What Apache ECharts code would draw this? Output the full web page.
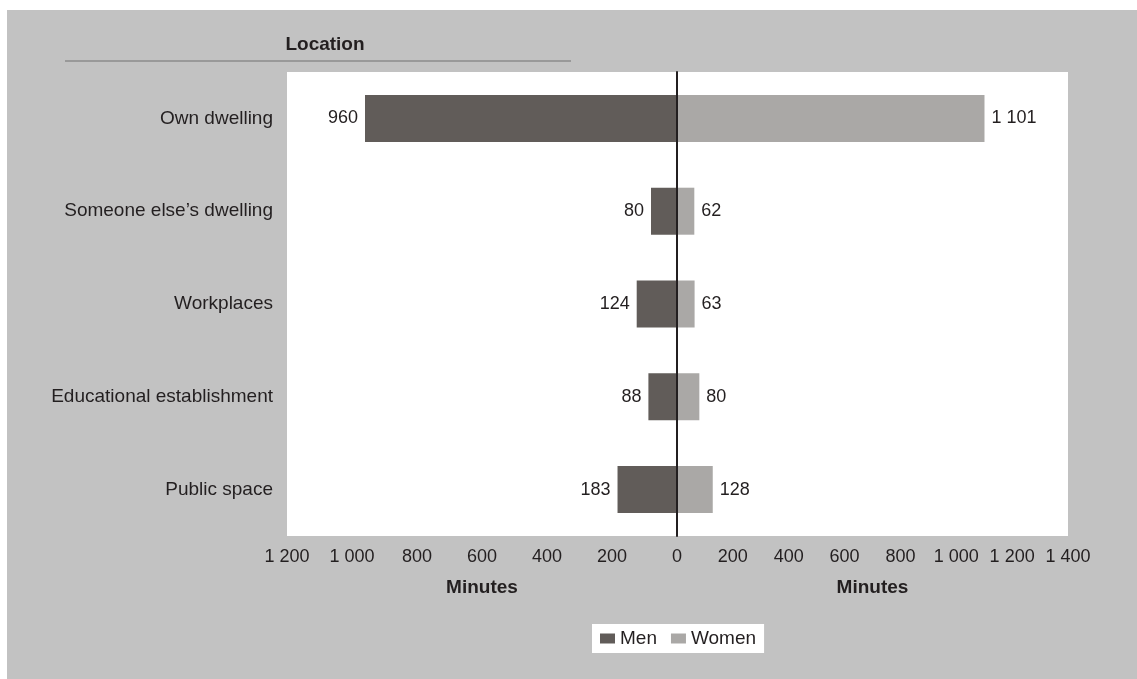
<!DOCTYPE html>
<html>
<head>
<meta charset="utf-8">
<script src="https://cdn.jsdelivr.net/npm/echarts@6/dist/echarts.min.js"></script>
<style>
  html, body { margin: 0; padding: 0; background: #ffffff; }
  #panel { position: absolute; left: 7px; top: 10px; right: 0; bottom: 0; background: #c2c2c2; }
  #chart { position: absolute; left: 0; top: 0; width: 1137px; height: 679px; }
</style>
</head>
<body>
<div id="panel"></div>
<div id="chart"></div>
<script>
// Time spent by location (minutes), men on the left, women on the right
const categories = ['Own dwelling', 'Someone else\u2019s dwelling', 'Workplaces', 'Educational establishment', 'Public space'];
const menMinutes = [960, 80, 124, 88, 183];
const womenMinutes = [1101, 62, 63, 80, 128];
const seriesNames = ['Men', 'Women'];
const axisTitle = 'Minutes';
const headerText = 'Location';

const FONT = '"Liberation Sans", Arial, sans-serif';
const TEXT = '#231f20';

// thousands separated by a space: 1101 -> "1 101"
function fmt(v) {
  return String(v).replace(/\B(?=(\d{3})+(?!\d))/g, ' ');
}

const chart = echarts.init(document.getElementById('chart'), null, { renderer: 'canvas' });

const axisLabelBase = { color: TEXT, fontFamily: FONT, fontSize: 18, margin: 12 };
const axisNameBase = { color: TEXT, fontFamily: FONT, fontSize: 19, fontWeight: 'bold' };

chart.setOption({
  backgroundColor: 'transparent',
  animation: false,
  textStyle: { fontFamily: FONT },
  grid: [
    { left: 287, width: 390, top: 72, height: 464, show: true, backgroundColor: '#ffffff', borderWidth: 0 },
    { left: 677, width: 391, top: 72, height: 464, show: true, backgroundColor: '#ffffff', borderWidth: 0 }
  ],
  legend: {
    data: seriesNames,
    left: 592,
    top: 624,
    backgroundColor: '#ffffff',
    padding: [5, 8],
    itemWidth: 15,
    itemHeight: 10,
    itemGap: 14,
    icon: 'rect',
    textStyle: { color: TEXT, fontFamily: FONT, fontSize: 19 }
  },
  xAxis: [
    {
      type: 'value', gridIndex: 0, min: 0, max: 1200, interval: 200, inverse: true,
      axisLine: { show: false }, axisTick: { show: false }, splitLine: { show: false },
      axisLabel: Object.assign({}, axisLabelBase, { formatter: v => (v === 0 ? '' : fmt(v)) }),
      name: axisTitle, nameLocation: 'middle', nameGap: 42, nameTextStyle: axisNameBase
    },
    {
      type: 'value', gridIndex: 1, min: 0, max: 1400, interval: 200,
      axisLine: { show: false }, axisTick: { show: false }, splitLine: { show: false },
      axisLabel: Object.assign({}, axisLabelBase, { formatter: v => fmt(v) }),
      name: axisTitle, nameLocation: 'middle', nameGap: 42, nameTextStyle: axisNameBase
    }
  ],
  yAxis: [
    {
      type: 'category', gridIndex: 0, data: categories, inverse: true, position: 'left',
      axisLine: { show: false }, axisTick: { show: false },
      axisLabel: { color: TEXT, fontFamily: FONT, fontSize: 19, margin: 14 }
    },
    {
      type: 'category', gridIndex: 1, data: categories, inverse: true, position: 'left', z: 10,
      axisLine: { show: true, lineStyle: { color: TEXT, width: 2 } },
      axisTick: { show: false }, axisLabel: { show: false }
    }
  ],
  series: [
    {
      name: seriesNames[0], type: 'bar', xAxisIndex: 0, yAxisIndex: 0,
      data: menMinutes, barWidth: 47,
      itemStyle: { color: '#615c59' },
      label: { show: true, position: 'left', distance: 7, color: TEXT, fontFamily: FONT, fontSize: 18, formatter: p => fmt(p.value) }
    },
    {
      name: seriesNames[1], type: 'bar', xAxisIndex: 1, yAxisIndex: 1,
      data: womenMinutes, barWidth: 47,
      itemStyle: { color: '#aaa8a6' },
      label: { show: true, position: 'right', distance: 7, color: TEXT, fontFamily: FONT, fontSize: 18, formatter: p => fmt(p.value) }
    }
  ],
  graphic: [
    {
      type: 'text', x: 325, y: 45, z: 5,
      style: { text: headerText, fill: TEXT, font: 'bold 19px ' + FONT, textAlign: 'center', textVerticalAlign: 'middle' }
    },
    {
      type: 'line', z: 5,
      shape: { x1: 65, y1: 61, x2: 571, y2: 61 },
      style: { stroke: '#999999', lineWidth: 2 }
    }
  ]
});
</script>
</body>
</html>
